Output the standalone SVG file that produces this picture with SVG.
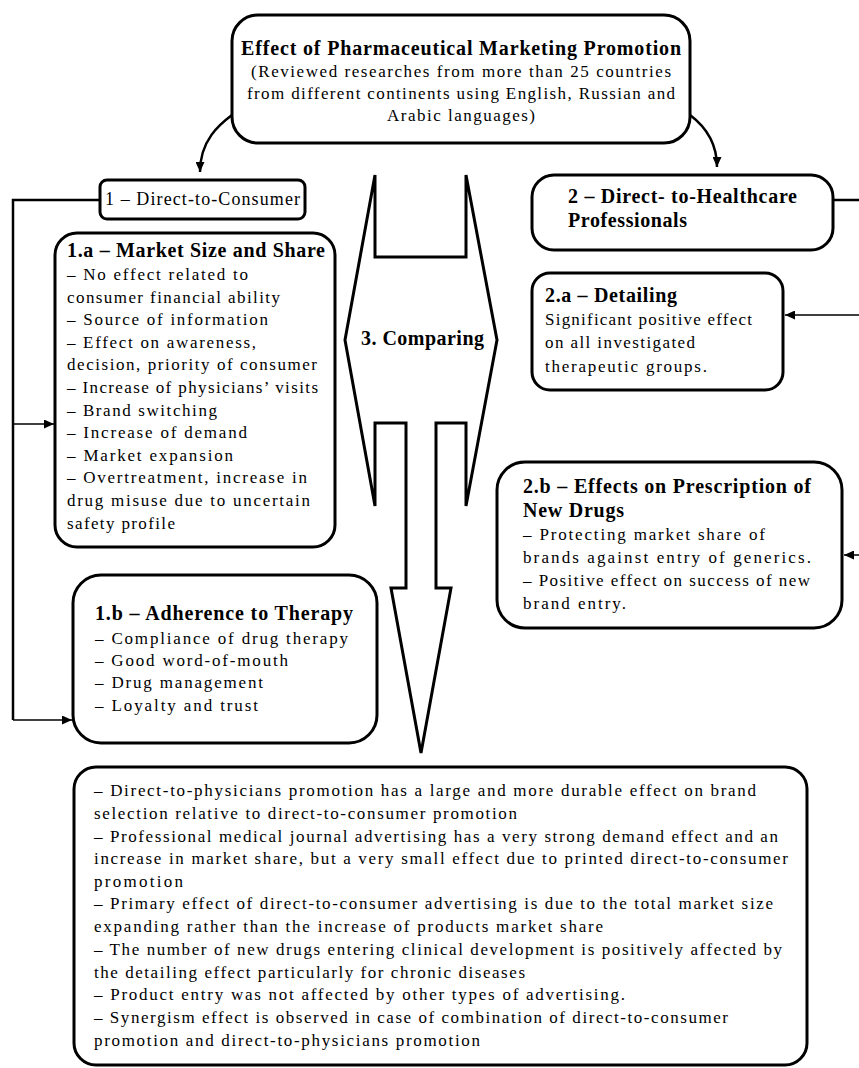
<svg xmlns="http://www.w3.org/2000/svg" width="859" height="1068" viewBox="0 0 859 1068">
<style>
.box{fill:#fff;stroke:#000;stroke-width:3}
.t{font-family:'Liberation Serif','Times New Roman',serif;font-size:17px;fill:#000}
.b{font-weight:bold;font-size:20px}
.thick{fill:none;stroke:#000;stroke-width:2.5}
.thin{fill:none;stroke:#000;stroke-width:1.5}
</style>
<defs>
<marker id="ah" markerUnits="userSpaceOnUse" markerWidth="10" markerHeight="9" refX="10" refY="4.5" orient="auto">
<path d="M0,0 L10,4.5 L0,9 z" fill="#000"/>
</marker>
</defs>

<g id="connectors">
<path class="thick" d="M232,115 C220,124 200,140 200,172" marker-end="url(#ah)"/>
<path class="thick" d="M690,115 C702,124 717,140 717,167" marker-end="url(#ah)"/>
<path class="thick" d="M100,200 H13 V720"/>
<path class="thin" d="M13,424 H54" marker-end="url(#ah)"/>
<path class="thin" d="M13,720 H72" marker-end="url(#ah)"/>
<path class="thick" d="M833,200 H866 V555"/>
<path class="thin" d="M866,315 H785" marker-end="url(#ah)"/>
<path class="thin" d="M866,555 H844" marker-end="url(#ah)"/>
</g>

<g id="top">
<rect class="box" x="232" y="15" width="458" height="128" rx="26"/>
<text class="t b" x="241" y="55" textLength="440" lengthAdjust="spacing">Effect of Pharmaceutical Marketing Promotion</text>
<text class="t" x="251" y="77" textLength="420" lengthAdjust="spacing">(Reviewed researches from more than 25 countries</text>
<text class="t" x="247" y="99" textLength="428" lengthAdjust="spacing">from different continents using English, Russian and</text>
<text class="t" x="387" y="121" textLength="148" lengthAdjust="spacing">Arabic languages)</text>
</g>

<g id="dtc">
<rect class="box" x="100" y="180" width="205" height="39" rx="7"/>
<text class="t" style="font-size:18px" x="105" y="205" textLength="195" lengthAdjust="spacing">1 – Direct-to-Consumer</text>
</g>

<g id="box1a">
<rect class="box" x="55" y="233" width="280" height="314" rx="22"/>
<text class="t b" x="67" y="257" textLength="258" lengthAdjust="spacing">1.a – Market Size and Share</text>
<text class="t" x="67" y="280" textLength="181" lengthAdjust="spacing">– No effect related to</text>
<text class="t" x="67" y="302.6" textLength="213" lengthAdjust="spacing">consumer financial ability</text>
<text class="t" x="67" y="325.2" textLength="201" lengthAdjust="spacing">– Source of information</text>
<text class="t" x="67" y="347.8" textLength="189" lengthAdjust="spacing">– Effect on awareness,</text>
<text class="t" x="67" y="370.4" textLength="250" lengthAdjust="spacing">decision, priority of consumer</text>
<text class="t" x="67" y="393" textLength="251" lengthAdjust="spacing">– Increase of physicians’ visits</text>
<text class="t" x="67" y="415.6" textLength="150" lengthAdjust="spacing">– Brand switching</text>
<text class="t" x="67" y="438.2" textLength="180" lengthAdjust="spacing">– Increase of demand</text>
<text class="t" x="67" y="460.8" textLength="166" lengthAdjust="spacing">– Market expansion</text>
<text class="t" x="67" y="483.4" textLength="240" lengthAdjust="spacing">– Overtreatment, increase in</text>
<text class="t" x="67" y="506" textLength="243" lengthAdjust="spacing">drug misuse due to uncertain</text>
<text class="t" x="67" y="528.6" textLength="108" lengthAdjust="spacing">safety profile</text>
</g>

<g id="box1b">
<rect class="box" x="73" y="575" width="304" height="168" rx="28"/>
<text class="t b" x="95" y="620" textLength="258" lengthAdjust="spacing">1.b – Adherence to Therapy</text>
<text class="t" x="95" y="644" textLength="253" lengthAdjust="spacing">– Compliance of drug therapy</text>
<text class="t" x="95" y="666" textLength="193" lengthAdjust="spacing">– Good word-of-mouth</text>
<text class="t" x="95" y="688.3" textLength="168" lengthAdjust="spacing">– Drug management</text>
<text class="t" x="95" y="710.7" textLength="163" lengthAdjust="spacing">– Loyalty and trust</text>
</g>

<g id="comparing">
<polygon class="box" stroke-width="2.5" points="375,175 375,257 466,257 466,175 497,340 466,506 466,423 436,423 436,588 451,588 421,753 391,588 406,588 406,423 375,423 375,506 345,340"/>
<text class="t b" x="361" y="345" textLength="123" lengthAdjust="spacing">3. Comparing</text>
</g>

<g id="dthp">
<rect class="box" x="532" y="175" width="301" height="75" rx="22"/>
<text class="t b" x="568" y="202.7" textLength="229" lengthAdjust="spacing">2 – Direct- to-Healthcare</text>
<text class="t b" x="568" y="226.7" textLength="119" lengthAdjust="spacing">Professionals</text>
</g>

<g id="box2a">
<rect class="box" x="532" y="273" width="251" height="117" rx="18"/>
<text class="t b" x="545" y="301.7" textLength="132" lengthAdjust="spacing">2.a – Detailing</text>
<text class="t" x="545" y="325" textLength="207" lengthAdjust="spacing">Significant positive effect</text>
<text class="t" x="545" y="348" textLength="150" lengthAdjust="spacing">on all investigated</text>
<text class="t" x="545" y="371.7" textLength="162" lengthAdjust="spacing">therapeutic groups.</text>
</g>

<g id="box2b">
<rect class="box" x="497" y="462" width="345" height="166" rx="28"/>
<text class="t b" x="523" y="493" textLength="288" lengthAdjust="spacing">2.b – Effects on Prescription of</text>
<text class="t b" x="523" y="516.5" textLength="101" lengthAdjust="spacing">New Drugs</text>
<text class="t" x="523" y="540" textLength="242" lengthAdjust="spacing">– Protecting market share of</text>
<text class="t" x="523" y="563" textLength="288" lengthAdjust="spacing">brands against entry of generics.</text>
<text class="t" x="523" y="586" textLength="287" lengthAdjust="spacing">– Positive effect on success of new</text>
<text class="t" x="523" y="608.5" textLength="103" lengthAdjust="spacing">brand entry.</text>
</g>

<g id="summary">
<rect class="box" stroke-width="3.5" x="74" y="767" width="733" height="298" rx="22"/>
<text class="t" x="94" y="796" textLength="662" lengthAdjust="spacing">– Direct-to-physicians promotion has a large and more durable effect on brand</text>
<text class="t" x="94" y="818.5" textLength="423" lengthAdjust="spacing">selection relative to direct-to-consumer promotion</text>
<text class="t" x="94" y="841.5" textLength="684" lengthAdjust="spacing">– Professional medical journal advertising has a very strong demand effect and an</text>
<text class="t" x="94" y="864" textLength="694" lengthAdjust="spacing">increase in market share, but a very small effect due to printed direct-to-consumer</text>
<text class="t" x="94" y="886.7" textLength="89" lengthAdjust="spacing">promotion</text>
<text class="t" x="94" y="909" textLength="679" lengthAdjust="spacing">– Primary effect of direct-to-consumer advertising is due to the total market size</text>
<text class="t" x="94" y="932" textLength="509" lengthAdjust="spacing">expanding rather than the increase of products market share</text>
<text class="t" x="94" y="955" textLength="688" lengthAdjust="spacing">– The number of new drugs entering clinical development is positively affected by</text>
<text class="t" x="94" y="977.7" textLength="431" lengthAdjust="spacing">the detailing effect particularly for chronic diseases</text>
<text class="t" x="94" y="1000" textLength="531" lengthAdjust="spacing">– Product entry was not affected by other types of advertising.</text>
<text class="t" x="94" y="1022.7" textLength="634" lengthAdjust="spacing">– Synergism effect is observed in case of combination of direct-to-consumer</text>
<text class="t" x="94" y="1045.7" textLength="386" lengthAdjust="spacing">promotion and direct-to-physicians promotion</text>
</g>
</svg>
